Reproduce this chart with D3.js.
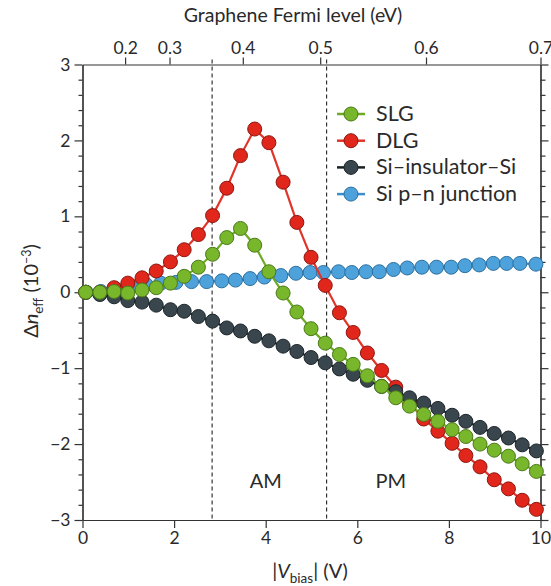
<!DOCTYPE html>
<html><head><meta charset="utf-8">
<script src="https://cdn.jsdelivr.net/npm/d3@7"></script>
<style>
html,body{margin:0;padding:0;background:#fff;}
svg text{font-family:Lato,"Open Sans",sans-serif;fill:#2a2a2a;}
</style></head>
<body><svg id="c" width="551" height="586"></svg>
<script>
// ---- data ----
const vGrid = [0.07,0.38,0.69,0.99,1.30,1.61,1.92,2.22,2.53,2.84,3.15,3.45,3.76,4.07,4.38,4.68,4.99,5.30,5.61,5.91,6.22,6.53,6.84,7.14,7.45,7.76,8.07,8.37,8.68,8.99,9.30,9.60,9.91];
const slg = [0.00,0.00,0.01,-0.01,0.03,0.06,0.12,0.21,0.33,0.50,0.72,0.84,0.62,0.27,-0.01,-0.26,-0.48,-0.67,-0.82,-0.95,-1.10,-1.24,-1.39,-1.50,-1.61,-1.70,-1.81,-1.90,-2.00,-2.08,-2.16,-2.26,-2.36];
const dlg = [0.00,0.00,0.06,0.12,0.19,0.28,0.40,0.56,0.76,1.01,1.37,1.80,2.15,1.97,1.45,0.92,0.46,0.09,-0.27,-0.53,-0.80,-1.03,-1.25,-1.46,-1.67,-1.83,-1.99,-2.15,-2.30,-2.47,-2.59,-2.74,-2.86];
const sis = [0.00,-0.03,-0.06,-0.11,-0.13,-0.17,-0.23,-0.25,-0.32,-0.38,-0.47,-0.51,-0.58,-0.64,-0.71,-0.78,-0.86,-0.93,-1.01,-1.08,-1.16,-1.24,-1.31,-1.39,-1.46,-1.53,-1.62,-1.70,-1.78,-1.86,-1.92,-2.01,-2.09];
const vPn = [0.08,0.40,0.73,1.06,1.39,1.71,2.04,2.38,2.71,3.04,3.34,3.66,3.97,4.33,4.66,4.97,5.26,5.59,5.88,6.19,6.48,6.79,7.09,7.41,7.73,8.05,8.35,8.66,8.97,9.26,9.55,9.90];
const pn = [0.00,0.01,0.04,0.07,0.10,0.12,0.13,0.14,0.14,0.15,0.16,0.18,0.20,0.22,0.25,0.26,0.26,0.27,0.26,0.27,0.27,0.30,0.32,0.33,0.33,0.33,0.35,0.36,0.38,0.38,0.38,0.37];
const seriesNames = ["SLG","DLG","Si\u2013insulator\u2013Si","Si p\u2013n junction"];
const xTicks = [0,2,4,6,8,10];
const yTicks = [-3,-2,-1,0,1,2,3];
const fermiLabels = ["0.2","0.3","0.4","0.5","0.6","0.7"];
const fermiV = [0.93,1.90,3.50,5.19,7.50,10.0];
const regionBounds = [2.83,5.33];
const regionLabels = ["AM","PM"];
const regionLabelV = [4.0,6.73];

// ---- styles ----
const styles = [
  {fill:"#78b62b", stroke:"#4a7a18", line:"#6cab22"},
  {fill:"#e1261c", stroke:"#8c1710", line:"#e0352a"},
  {fill:"#3a464d", stroke:"#1d262b", line:"#1b1f22"},
  {fill:"#4ea2dc", stroke:"#2b6f9f", line:"#3b8fcf"}
];

const svg = d3.select("#c");
const x = d3.scaleLinear().domain([0,10]).range([82.5,540.5]);
const y = d3.scaleLinear().domain([-3,3]).range([520,64.5]);
const axCol = "#333";
const R = 7;

function styleAxis(g){
  g.selectAll("path.domain").attr("stroke",axCol).attr("stroke-width",1.2);
  g.selectAll(".tick line").attr("stroke",axCol).attr("stroke-width",1.2);
  g.selectAll(".tick text").attr("font-family","Lato, 'Open Sans', sans-serif").attr("font-size",17.5).attr("fill","#2a2a2a");
}
const yMinor = d3.range(-3,3.0001,0.2).map(d=>+d.toFixed(1)).filter(d=>Math.abs(d-Math.round(d))>1e-6);

// left axis
svg.append("g").attr("transform",`translate(${x(0)},0)`)
  .call(d3.axisLeft(y).tickValues(yMinor).tickSize(4).tickFormat("").tickSizeOuter(0)).call(styleAxis);
svg.append("g").attr("transform",`translate(${x(0)},0)`)
  .call(d3.axisLeft(y).tickValues(yTicks).tickSize(8).tickPadding(4).tickSizeOuter(0)
    .tickFormat(d=>d<0?"\u2212"+Math.abs(d):d)).call(styleAxis);
// right axis
svg.append("g").attr("transform",`translate(${x(10)},0)`)
  .call(d3.axisRight(y).tickValues(yMinor).tickSize(5).tickFormat("").tickSizeOuter(0)).call(styleAxis);
svg.append("g").attr("transform",`translate(${x(10)},0)`)
  .call(d3.axisRight(y).tickValues(yTicks).tickSize(8).tickFormat("").tickSizeOuter(0)).call(styleAxis);
// bottom axis
svg.append("g").attr("transform",`translate(0,${y(-3)})`)
  .call(d3.axisBottom(x).tickValues(xTicks).tickSize(8).tickPadding(4).tickSizeOuter(0)).call(styleAxis);
// top axis (Fermi level)
svg.append("g").attr("transform",`translate(0,${y(3)})`)
  .call(d3.axisTop(x).tickValues(fermiV).tickSize(7).tickPadding(4).tickSizeOuter(0)
    .tickFormat((d,i)=>fermiLabels[i])).call(styleAxis);

// region boundaries
regionBounds.forEach(v=>{
  svg.append("line").attr("x1",x(v)).attr("x2",x(v)).attr("y1",y(3)-5).attr("y2",y(-3))
    .attr("stroke","#222").attr("stroke-width",1.1).attr("stroke-dasharray","4,3");
});
regionLabels.forEach((t,i)=>{
  svg.append("text").attr("x",x(regionLabelV[i])).attr("y",488).attr("text-anchor","middle")
    .attr("font-size",20).text(t);
});

// series
const sets = [
  {xs:vPn, ys:pn, s:3},
  {xs:vGrid, ys:dlg, s:1},
  {xs:vGrid, ys:sis, s:2},
  {xs:vGrid, ys:slg, s:0}
];
const line = d3.line().x(d=>x(d[0])).y(d=>y(d[1]));
sets.forEach(set=>{
  const pts = set.xs.map((v,i)=>[v,set.ys[i]]);
  const st = styles[set.s];
  const g = svg.append("g");
  g.append("path").datum(pts).attr("d",line).attr("fill","none").attr("stroke",st.line).attr("stroke-width",2.2);
  g.selectAll("circle").data(pts).join("circle")
    .attr("cx",d=>x(d[0])).attr("cy",d=>y(d[1])).attr("r",R)
    .attr("fill",st.fill).attr("stroke",st.stroke).attr("stroke-width",1);
});

// legend
seriesNames.forEach((n,i)=>{
  const st = styles[i];
  const yy = 114 + i*26.7;
  svg.append("line").attr("x1",337).attr("x2",365).attr("y1",yy).attr("y2",yy)
    .attr("stroke",st.line).attr("stroke-width",2.5);
  svg.append("circle").attr("cx",351).attr("cy",yy).attr("r",R)
    .attr("fill",st.fill).attr("stroke",st.stroke).attr("stroke-width",1);
  svg.append("text").attr("x",376).attr("y",yy+7).attr("font-size",21.5).text(n);
});

// axis titles
svg.append("text").attr("x",293).attr("y",22).attr("text-anchor","middle").attr("font-size",19.5)
  .text("Graphene Fermi level (eV)");
const xt = svg.append("text").attr("x",310).attr("y",578).attr("text-anchor","middle").attr("font-size",20);
xt.append("tspan").text("|");
xt.append("tspan").attr("font-style","italic").text("V");
xt.append("tspan").attr("font-size",13.5).attr("dy",5).text("bias");
xt.append("tspan").attr("dy",-5).text("| (V)");
const yt = svg.append("text").attr("transform","translate(38,291) rotate(-90)").attr("text-anchor","middle").attr("font-size",20);
yt.append("tspan").text("\u0394");
yt.append("tspan").attr("font-style","italic").text("n");
yt.append("tspan").attr("font-size",13.5).attr("dy",5).text("eff");
yt.append("tspan").attr("dy",-5).text(" (10");
yt.append("tspan").attr("font-size",12.5).attr("dy",-7).text("\u22123");
yt.append("tspan").attr("dy",7).text(")");
</script></body></html>
